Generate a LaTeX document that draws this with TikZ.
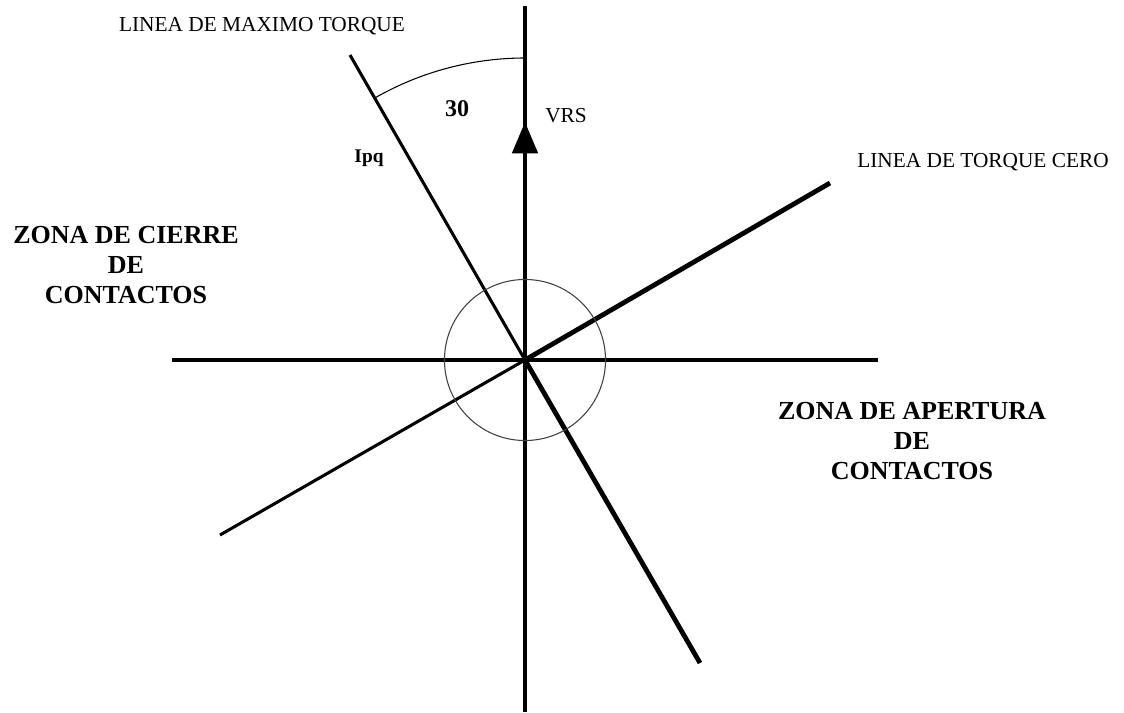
\documentclass[tikz,border=0pt]{standalone}
\usepackage{fontspec}
\setmainfont{Liberation Serif}
\usetikzlibrary{arrows.meta}

\begin{document}
\begin{tikzpicture}[
    x=0.75pt, y=0.75pt,
    axisline/.style={line width=2.8pt, line cap=butt},
    halfline/.style={line width=2.3pt},
    thickhalf/.style={line width=3.6pt},
    thinline/.style={line width=0.8pt},
    smalllabel/.style={font=\fontsize{16}{18}\selectfont, inner sep=0pt, anchor=base},
    boldlabel/.style={font=\fontsize{15}{18}\selectfont\bfseries, inner sep=0pt, anchor=base},
    zonelabel/.style={font=\fontsize{19.5}{22.5}\selectfont\bfseries, inner sep=0pt, align=center, anchor=north}
]
\useasboundingbox (0,0) rectangle (1124,-713);

% Reference points
\coordinate (O) at (525,-360);
\coordinate (vtop) at (525,-6);
\coordinate (vbot) at (525,-712);
\coordinate (hleft) at (172,-360);
\coordinate (hright) at (878,-360);
\coordinate (vtip) at (525,-122);
\coordinate (maxup) at (350,-55);
\coordinate (maxdown) at (700,-663);
\coordinate (zeroup) at (830,-183);
\coordinate (zerodown) at (220,-535);
\coordinate (arcstart) at (525,-58);

% Axes
\draw[axisline] (vbot) -- (vtop);
\draw[axisline] (hleft) -- (hright);
\draw[axisline, -{Triangle[length=23.5pt, width=19pt]}] (O) -- (vtip);

% Torque lines
\draw[halfline] (O) -- (maxup);
\draw[thickhalf] (O) -- (maxdown);
\draw[halfline] (O) -- (zerodown);
\draw[thickhalf] (O) -- (zeroup);

% Circle and angle
\draw[thinline, black!75] (O) circle[radius=60.4pt];
\draw[thinline] (arcstart) arc[start angle=90, end angle=120, radius=226.5pt];

% Labels
\node[smalllabel] (maxlbl) at (262,-32) {LINEA DE MAXIMO TORQUE};
\node[smalllabel] (zerolbl) at (983,-168) {LINEA DE TORQUE CERO};
\node[smalllabel] (vrs) at (566,-123) {VRS};
\node[boldlabel, font=\fontsize{18}{20}\selectfont\bfseries] (angle) at (457,-117) {30};
\node[boldlabel, font=\fontsize{14.5}{16}\selectfont\bfseries] (ipq) at (369,-163) {Ipq};
\node[zonelabel] (cierre) at (126,-226) {ZONA DE CIERRE\\DE\\CONTACTOS};
\node[zonelabel] (apertura) at (912,-402) {ZONA DE APERTURA\\DE\\CONTACTOS};
\end{tikzpicture}
\end{document}
